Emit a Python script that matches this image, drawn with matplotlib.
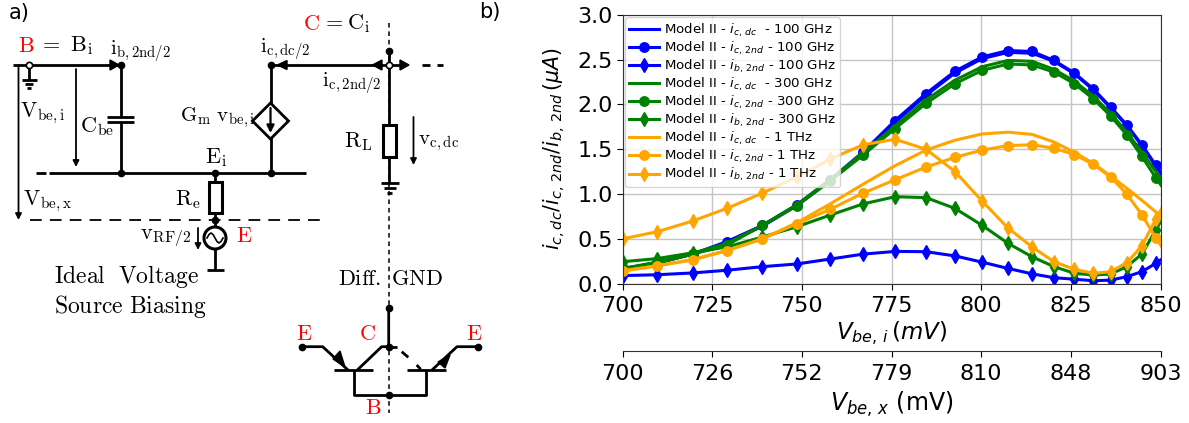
import matplotlib
matplotlib.use('Agg')
import matplotlib.pyplot as plt
from matplotlib.patches import Rectangle, Circle, Polygon

# ---------- chart data ----------
v_be_i = [700, 709.7, 719.6, 729.1, 739, 748.6, 757.9, 767.1, 776, 784.6, 792.7,
          800.3, 807.5, 814.2, 820.3, 826, 831.3, 836.1, 840.6, 844.8, 848.7, 852.3]

ic_dc_100 = [0.15, 0.23, 0.33, 0.46, 0.64, 0.87, 1.15, 1.46, 1.80, 2.10, 2.35,
             2.51, 2.58, 2.57, 2.48, 2.34, 2.16, 1.96, 1.76, 1.54, 1.31, 1.10]
ic_2nd_100 = [0.16, 0.24, 0.33, 0.47, 0.65, 0.88, 1.16, 1.47, 1.82, 2.12, 2.37,
              2.53, 2.60, 2.59, 2.49, 2.35, 2.17, 1.97, 1.77, 1.55, 1.32, 1.12]
ib_2nd_100 = [0.09, 0.10, 0.12, 0.15, 0.19, 0.22, 0.275, 0.33, 0.36, 0.357, 0.31,
              0.24, 0.17, 0.11, 0.067, 0.05, 0.033, 0.04, 0.078, 0.134, 0.227, 0.33]

ic_dc_300 = [0.17, 0.24, 0.34, 0.45, 0.65, 0.88, 1.16, 1.46, 1.76, 2.05, 2.27,
             2.42, 2.49, 2.48, 2.39, 2.26, 2.09, 1.90, 1.69, 1.47, 1.25, 1.04]
ic_2nd_300 = [0.17, 0.23, 0.33, 0.43, 0.65, 0.87, 1.145, 1.435, 1.73, 2.01, 2.23,
              2.38, 2.45, 2.44, 2.36, 2.23, 2.06, 1.87, 1.66, 1.42, 1.18, 0.98]
ib_2nd_300 = [0.245, 0.28, 0.345, 0.41, 0.52, 0.635, 0.765, 0.89, 0.97, 0.96, 0.84,
              0.65, 0.45, 0.30, 0.19, 0.116, 0.097, 0.108, 0.19, 0.33, 0.60, 0.85]

ic_dc_1t = [0.14, 0.20, 0.27, 0.37, 0.50, 0.68, 0.89, 1.11, 1.316, 1.49, 1.60,
            1.67, 1.69, 1.665, 1.58, 1.465, 1.34, 1.20, 1.064, 0.93, 0.80, 0.68]
ic_2nd_1t = [0.145, 0.20, 0.265, 0.37, 0.50, 0.67, 0.83, 1.01, 1.16, 1.30, 1.41,
             1.49, 1.54, 1.55, 1.51, 1.44, 1.33, 1.19, 1.00, 0.77, 0.51, 0.30]
ib_2nd_1t = [0.50, 0.58, 0.70, 0.84, 1.01, 1.19, 1.39, 1.55, 1.61, 1.50, 1.25,
             0.92, 0.62, 0.41, 0.245, 0.16, 0.116, 0.134, 0.234, 0.42, 0.72, 0.98]

xticks = [700, 725, 750, 775, 800, 825, 850]
yticks = [0.0, 0.5, 1.0, 1.5, 2.0, 2.5, 3.0]
v_be_x_labels = ['700', '726', '752', '779', '810', '848', '903']

W, H = 1189, 423
fig = plt.figure(figsize=(W / 100, H / 100), dpi=100)

# ---------- panel b ----------
ax = fig.add_axes([622.5 / W, (H - 283.7) / H, 538 / W, 269 / H])
lw = 2.2
series = [('blue', '100 GHz', ic_dc_100, ic_2nd_100, ib_2nd_100),
          ('green', '300 GHz', ic_dc_300, ic_2nd_300, ib_2nd_300),
          ('orange', '1 THz', ic_dc_1t, ic_2nd_1t, ib_2nd_1t)]
for col, freq, dc, second, base in series:
    ax.plot(v_be_i, dc, color=col, lw=lw, label=r'Model II - $i_{c,\,dc}$  - ' + freq)
    ax.plot(v_be_i, second, color=col, lw=lw, marker='o', ms=6.8,
            label=r'Model II - $i_{c,\,2nd}$ - ' + freq)
    ax.plot(v_be_i, base, color=col, lw=lw, marker='d', ms=7.5,
            label=r'Model II - $i_{b,\,2nd}$ - ' + freq)

ax.set_xlim(700, 850)
ax.set_ylim(0, 3)
ax.set_xticks(xticks)
ax.set_yticks(yticks)
ax.grid(True, color='#c4c4c4', lw=1)
ax.tick_params(axis='x', labelsize=16, length=4, pad=4.5, colors='black')
ax.tick_params(axis='y', labelsize=16, length=4, pad=3)
ax.set_xlabel(r'$V_{be,\,i}\,(mV)$', fontsize=16.5, labelpad=3)
ax.set_ylabel(r'$i_{c,dc}/i_{c,\,2nd}/i_{b,\,2nd}\,(\mu A)$', fontsize=14.8, labelpad=7)
for s in ax.spines.values():
    s.set_color('#333333')
ax.legend(loc='upper left', bbox_to_anchor=(0.0, 1.0), fontsize=9.6, handlelength=2.2,
          labelspacing=0.05, borderaxespad=0.2, borderpad=0.3, handletextpad=0.4)

ax2 = ax.twiny()
ax2.set_xlim(700, 850)
ax2.set_xticks(xticks)
ax2.set_xticklabels(v_be_x_labels)
ax2.xaxis.set_ticks_position('bottom')
ax2.xaxis.set_label_position('bottom')
ax2.spines['bottom'].set_position(('outward', 48.7))
ax2.spines['bottom'].set_color('#333333')
for name in ['top', 'left', 'right']:
    ax2.spines[name].set_visible(False)
ax2.tick_params(axis='x', labelsize=16, length=4, pad=5)
ax2.set_xlabel(r'$V_{be,\,x}$ (mV)', fontsize=17, labelpad=4.5)

# ---------- panel a, schematic drawn in pixel coordinates ----------
sch = fig.add_axes([0, 0, 1, 1], zorder=-1)
sch.set_xlim(0, W)
sch.set_ylim(H, 0)
sch.axis('off')

wires = [
    [(13, 65), (120.5, 65), (120.5, 116.7)], [(120.5, 122.3), (120.5, 172.7)],
    [(107, 116.7), (134, 116.7)], [(107, 122.3), (134, 122.3)],
    [(29, 65), (29, 80)], [(22, 80), (37, 80)], [(25, 84), (33, 84)], [(27, 88), (31, 88)],
    [(36, 172.7), (46, 172.7)], [(49, 172.7), (306, 172.7)],
    [(270.5, 65), (270.5, 172.7)], [(270.5, 65), (400, 65)],
    [(422, 65), (430, 65)], [(437, 65), (443, 65)],
    [(388.7, 51), (388.7, 183)],
    [(381, 183), (399, 183)], [(384, 188), (396, 188)], [(387, 192.7), (392, 192.7)],
    [(215, 172.7), (215, 227)], [(215, 249), (215, 270)], [(207, 270), (224, 270)],
    # differential pair
    [(388.7, 308), (388.7, 346.7), (381.7, 346.7), (357.3, 370)],
    [(301.7, 346.7), (322.7, 346.7), (348, 370)],
    [(334, 370), (372.7, 370)], [(407, 370), (446, 370)],
    [(354, 370), (354, 394.7), (426, 394.7), (426, 370)],
    [(388.7, 346.7), (396.7, 346.7)], [(401.7, 351.7), (408.3, 357.3)], [(416.7, 365), (420.7, 369.3)],
    [(432, 370), (457, 346.7), (478, 346.7)],
]
for w in wires:
    sch.plot([p[0] for p in w], [p[1] for p in w], color='black', lw=2, solid_capstyle='butt', zorder=2)

dots = [(120.5, 65), (120.5, 172.7), (270.5, 65), (270.5, 172.7), (215, 172.7), (215, 220),
        (388.7, 51), (388.7, 308), (388.7, 346.7), (388.7, 395), (301.7, 346.7), (478, 346.7)]
sch.plot([d[0] for d in dots], [d[1] for d in dots], 'o', color='black', ms=4.5, zorder=4)
sch.plot([29, 388.7], [65, 65], 'o', mfc='white', mec='black', mew=1.2, ms=4.5, zorder=5)

# dashed guides
sch.plot([389, 389], [23, 413], color='black', lw=1.1, ls=(0, (3, 2.5)), zorder=1)
sch.plot([30, 321], [220, 220], color='black', lw=1.3, ls=(0, (6.5, 4.5)), zorder=1)

# filled arrow heads on the wires
heads = [[(110, 60), (110, 70), (119, 65)], [(287, 60.5), (287, 69.5), (277.5, 65)],
         [(382, 60), (382, 70), (372.5, 65)], [(400, 60), (400, 70), (409, 65)],
         [(333, 359), (340, 351), (345, 367)], [(438, 362), (445, 368), (450, 355)]]
for h in heads:
    sch.add_patch(Polygon(h, color='black', zorder=3))

# thin voltage arrows
for x, y0, y1 in [(18.5, 65, 220), (76, 69, 167), (413.5, 117, 165), (198, 228, 250)]:
    sch.annotate('', xy=(x, y1), xytext=(x, y0),
                 arrowprops=dict(arrowstyle='-|>', color='black', lw=1.3, shrinkA=0, shrinkB=0,
                                 mutation_scale=9))

# components
sch.add_patch(Polygon([(270.5, 103), (288.5, 121), (270.5, 139), (252.5, 121)], fc='white', ec='black', lw=2, zorder=3))
sch.annotate('', xy=(270.5, 133), xytext=(270.5, 108),
             arrowprops=dict(arrowstyle='-|>', color='black', lw=1.6, shrinkA=0, shrinkB=0, mutation_scale=11),
             zorder=4)
sch.add_patch(Rectangle((383, 125), 13, 32, fc='white', ec='black', lw=2.2, zorder=3))
sch.add_patch(Rectangle((208.5, 182), 13, 31, fc='white', ec='black', lw=2.2, zorder=3))
sch.add_patch(Circle((215, 238), 11, fc='white', ec='black', lw=2.2, zorder=3))
sine_x = [207, 209, 211, 213, 215, 217, 219, 221, 223]
sine_y = [238, 234.5, 233, 234.5, 238, 241.5, 243, 241.5, 238]
sch.plot(sine_x, sine_y, color='black', lw=1.2, zorder=4)

# labels: x, y, text, size
black_txt = [
    (39, 46, r'$\mathrm{=\ B_i}$', 16), (110, 52, r'$\mathrm{i_{b,2nd/2}}$', 15),
    (260, 50, r'$\mathrm{i_{c,dc/2}}$', 15), (322, 84, r'$\mathrm{i_{c,2nd/2}}$', 15),
    (322, 24, r'$\mathrm{=C_i}$', 16), (20, 113, r'$\mathrm{V_{be,i}}$', 15.5),
    (80, 127, r'$\mathrm{C_{be}}$', 16), (180, 118, r'$\mathrm{G_m\ v_{be,i}}$', 15),
    (344, 142, r'$\mathrm{R_L}$', 16), (418, 143, r'$\mathrm{v_{c,dc}}$', 15),
    (205, 158, r'$\mathrm{E_i}$', 16), (175, 200, r'$\mathrm{R_e}$', 16),
    (23, 201, r'$\mathrm{V_{be,x}}$', 15.5), (140, 238, r'$\mathrm{v_{RF/2}}$', 16),
    (54, 277, r'$\mathrm{Ideal\ \ Voltage}$', 17), (54, 307, r'$\mathrm{Source\ Biasing}$', 17),
    (338, 279, r'$\mathrm{Diff.\ GND}$', 16),
]
for x, y, s, size in black_txt:
    sch.text(x, y, s, fontsize=size, math_fontfamily='cm', va='center', ha='left', color='black', zorder=6)

red_txt = [(18, 46, 'B'), (303, 24, 'C'), (236, 236, 'E'), (296, 334, 'E'), (359, 334, 'C'),
           (466, 334, 'E'), (365, 408, 'B')]
for x, y, s in red_txt:
    sch.text(x, y, r'$\mathrm{' + s + '}$', fontsize=16, math_fontfamily='cm', color='red', va='center', ha='left', zorder=6)

sch.text(9, 13, 'a)', fontsize=15, va='center', ha='left', color='black')
sch.text(479, 12, 'b)', fontsize=15, va='center', ha='left', color='black')

fig.savefig('out.png', dpi=100)
